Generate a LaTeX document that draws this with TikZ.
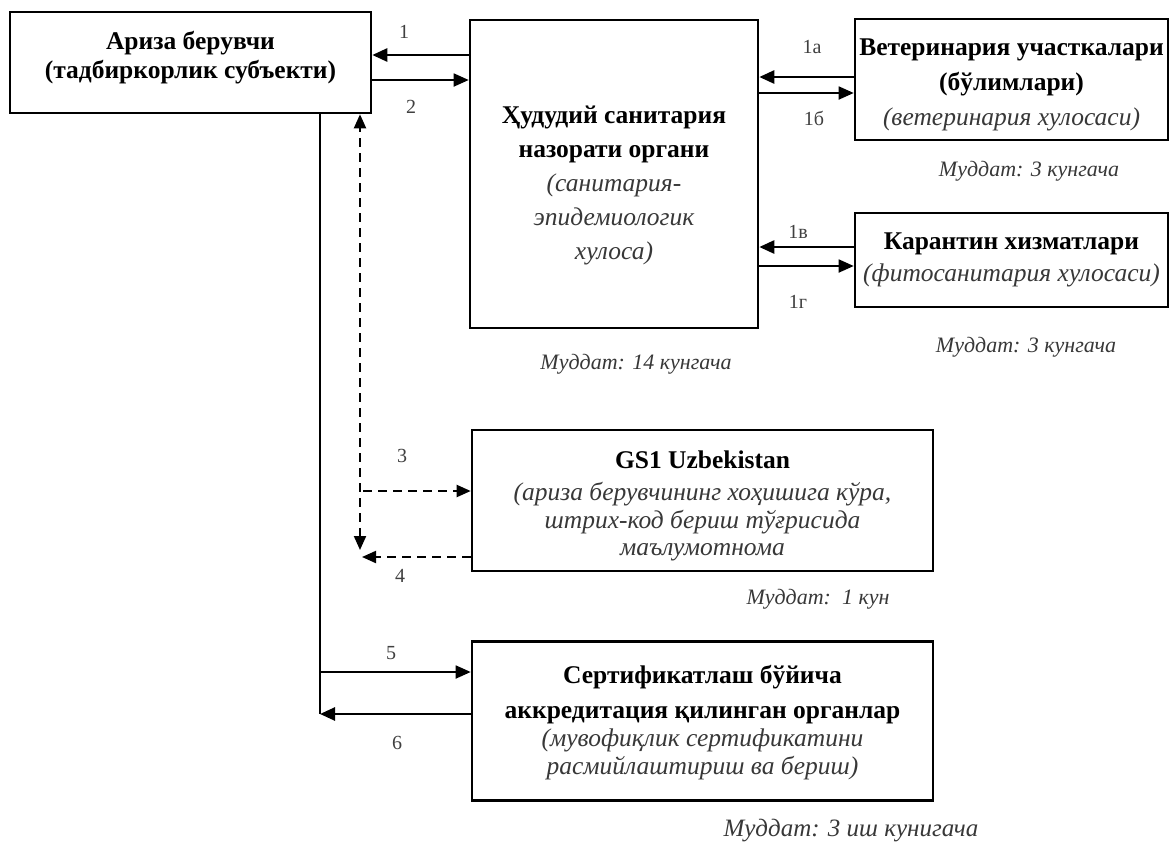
\documentclass[tikz,border=0pt]{standalone}
\usepackage{fontspec}
\setmainfont{Liberation Serif}
\usetikzlibrary{arrows.meta,calc}
\definecolor{itc}{gray}{0.22}
\definecolor{lbc}{gray}{0.25}
\newcommand{\myit}[1]{{\color{itc}\itshape #1}}
\begin{document}
\begin{tikzpicture}[x=1pt,y=-1pt,
  box/.style={draw, line width=2.6pt, inner sep=0pt},
  txt/.style={align=center, inner sep=0pt, text=black},
  lbl/.style={font=\fontsize{20}{22}\selectfont, text=lbc, inner sep=0pt},
  term/.style={font=\fontsize{22}{24}\selectfont\itshape, text=itc, inner sep=0pt},
  tip/.style={-{Triangle[length=15pt,width=13pt]}},
  thickarr/.style={tip, line width=2.6pt},
  thinarr/.style={tip, line width=1.8pt},
  trunkline/.style={line width=2pt},
  dasharr/.style={line width=2pt, dash pattern=on 9pt off 6pt, -{Triangle[length=14pt,width=12pt]}}
]
\fill[white] (0,0) rectangle (1170,847);
\useasboundingbox (0,0) rectangle (1170,847);

% boxes
\node[box, minimum width=361pt, minimum height=101pt] (ariza) at (190.5,62.5) {};
\node[box, minimum width=288pt, minimum height=308pt] (central) at (614,174) {};
\node[box, minimum width=313pt, minimum height=121pt] (vet) at (1011.5,79.5) {};
\node[box, minimum width=313pt, minimum height=94pt] (kar) at (1011.5,260) {};
\node[box, minimum width=461pt, minimum height=141pt] (gs) at (702.5,500.5) {};
\node[box, minimum width=461pt, minimum height=159pt] (sert) at (702.5,721) {};

% box texts
\node[txt, font=\fontsize{25.5}{29}\selectfont] (arizat) at (190.5,58)
  {\textbf{Ариза берувчи}\\\textbf{(тадбиркорлик субъекти)}};
\node[txt, font=\fontsize{25.5}{34}\selectfont] (centralt) at (614,185)
  {\textbf{Ҳудудий санитария}\\\textbf{назорати органи}\\\myit{(санитария-}\\\myit{эпидемиологик}\\\myit{хулоса)}};
\node[txt, font=\fontsize{25.5}{35}\selectfont] (vett) at (1011.5,84.5)
  {\textbf{Ветеринария участкалари}\\\textbf{(бўлимлари)}\\\myit{(ветеринария хулосаси)}};
\node[txt, font=\fontsize{25.5}{32}\selectfont] (kart) at (1011.5,260)
  {\textbf{Карантин хизматлари}\\\myit{(фитосанитария хулосаси)}};
\node[txt, font=\fontsize{25.5}{27.5}\selectfont] (gst) at (702.5,506)
  {\textbf{GS1 Uzbekistan}\\[4.5pt]\myit{(ариза берувчининг хоҳишига кўра,}\\\myit{штрих-код бериш тўғрисида}\\\myit{маълумотнома}};
\node[txt, font=\fontsize{25.5}{28}\selectfont] (sertt) at (702.5,723)
  {\textbf{Сертификатлаш бўйича}\\[7pt]\textbf{аккредитация қилинган органлар}\\\myit{(мувофиқлик сертификатини}\\\myit{расмийлаштириш ва бериш)}};

% terms
\node[term] (t14) at (636,364) {Муддат: 14 кунгача};
\node[term] (tvet) at (1029,171) {Муддат: 3 кунгача};
\node[term] (tkar) at (1026,347) {Муддат: 3 кунгача};
\node[term] (tgs) at (818,599) {Муддат:\ \ 1 кун};
\node[term, font=\fontsize{25}{27}\selectfont\itshape] (tsert) at (851,831) {Муддат: 3 иш кунигача};

% coordinates
\coordinate (trunk) at (320,714);
\coordinate (t5) at (320,672);
\coordinate (dbot) at (360,550);
\coordinate (d3) at (363,491);
\coordinate (d4) at (362,557);

% applicant <-> central
\draw[thickarr] ($(ariza.east -| central.west)+(0,-7.5)$) -- ($(ariza.east)+(0,-7.5)$);
\draw[thinarr] ($(ariza.east)+(0,17.5)$) -- ($(ariza.east -| central.west)+(0,17.5)$);
% central <-> vet
\draw[thickarr] ($(vet.west)+(0,-2.5)$) -- ($(vet.west -| central.east)+(0,-2.5)$);
\draw[thinarr] ($(vet.west -| central.east)+(0,13.5)$) -- ($(vet.west)+(0,13.5)$);
% central <-> kar
\draw[thickarr] ($(kar.west)+(0,-13)$) -- ($(kar.west -| central.east)+(0,-13)$);
\draw[thinarr] ($(kar.west -| central.east)+(0,6)$) -- ($(kar.west)+(0,6)$);
% trunk to certification
\draw[trunkline] (ariza.south -| trunk) -- (trunk);
\draw[thinarr] (t5) -- (t5 -| sert.west);
\draw[thickarr] (sert.west |- trunk) -- (trunk);
% dashed to GS1
\draw[dasharr, {Triangle[length=14pt,width=12pt]}-{Triangle[length=14pt,width=12pt]}] (dbot) -- (ariza.south -| dbot);
\draw[dasharr] (d3) -- (d3 -| gs.west);
\draw[dasharr] (d4 -| gs.west) -- (d4);

% labels
\node[lbl] (l1) at (404,32) {1};
\node[lbl] (l2) at (411,107) {2};
\node[lbl] (l1a) at (812,47) {1а};
\node[lbl] (l1b) at (814,118) {1б};
\node[lbl] (l1v) at (798,232) {1в};
\node[lbl] (l1g) at (798,302) {1г};
\node[lbl] (l3) at (402,456) {3};
\node[lbl] (l4) at (400,576) {4};
\node[lbl] (l5) at (391,653) {5};
\node[lbl] (l6) at (397,743) {6};
\end{tikzpicture}
\end{document}
